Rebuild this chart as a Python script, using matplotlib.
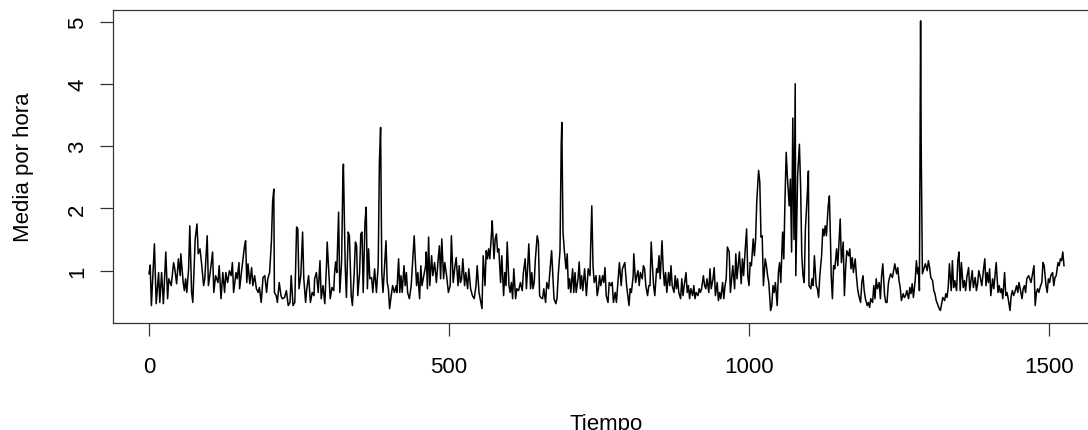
import matplotlib
matplotlib.use("Agg")
import matplotlib.pyplot as plt

plt.rcParams['font.family'] = ['Liberation Sans', 'DejaVu Sans']

# --- serie (vertices de la linea) ---
tiempo = [
    0, 2, 4, 9, 12, 16, 18, 21, 24, 28, 31, 33, 37, 41, 43, 46, 49, 52, 53, 57,
    59, 61, 63, 66, 68, 71, 73, 77, 80, 82, 85, 88, 91, 93, 97, 99, 102, 106, 108, 111,
    115, 117, 120, 123, 126, 128, 131, 134, 137, 139, 141, 145, 147, 150,
    151, 154, 157, 159, 161, 163, 165, 168, 171, 173, 176, 179, 182, 184, 187, 190,
    193, 196, 198, 201, 204, 206, 208, 209, 212, 214, 217, 220, 222, 226, 229, 232,
    235, 237, 240, 243, 246, 248, 250, 253, 256, 258, 261, 263, 266, 269, 272, 275,
    276, 279, 282, 285, 287, 290, 293, 296, 297, 300, 302, 305, 308,
    309, 311, 313, 316, 318, 321, 323, 324, 327, 329, 332, 334, 337, 339, 342, 344,
    346, 348, 351, 353, 355, 357, 360, 362, 364, 366, 368, 371, 373, 376, 379, 382,
    384, 386, 388, 390, 392, 395, 397, 399, 401, 403, 406, 409, 412, 413, 416, 418,
    420, 422, 425, 427, 429, 431, 434, 437, 440, 442, 444, 446, 448, 451, 453, 455,
    458, 461, 462,
    464, 466, 468, 471, 473, 476, 479, 482, 484, 486, 488, 491, 493, 496, 499, 502,
    504, 507, 510, 512, 515, 517, 519, 521, 523, 526, 528, 531, 533, 536, 539, 542,
    545, 547, 550, 553, 555, 557, 560, 562, 564, 566, 568, 571, 572, 575, 577, 579,
    581, 583, 586, 588, 591, 593, 595, 597, 600, 602, 604, 606, 608, 611, 613,
    616, 619, 622, 624, 627, 629, 631, 633, 636, 638, 640, 642, 644, 647, 649, 651,
    653, 656, 658, 661, 663, 666, 668, 671, 673, 675, 678, 680, 682, 685, 687, 688,
    690, 692, 695, 697, 699, 701, 703, 706, 708, 710, 712, 715, 717, 719, 721, 723,
    726, 729, 732, 735, 736, 738, 740, 742, 745, 747, 749, 751, 753, 756, 758, 760,
    762, 765, 767, 770, 772,
    774, 777, 779, 782, 784, 787, 789, 791, 793, 796, 798, 800, 802, 804, 807, 808,
    811, 813, 815, 817, 819, 822, 824, 826, 828, 831, 833, 835, 837, 839, 841, 843,
    846, 848, 850, 852, 855, 857, 859, 861, 863, 866, 868, 870, 872, 875, 877, 879,
    881, 883, 886, 888, 890, 892, 895, 897, 899, 901, 903, 906, 908, 910, 912, 915,
    917, 919, 921, 924, 926,
    928, 930, 933, 935, 937, 940, 942, 944, 947, 949, 951, 953, 956, 958, 960, 962,
    964, 967, 969, 971, 973, 976, 978, 980, 982, 984, 987, 989, 991, 993, 996, 998,
    1000, 1002, 1004, 1007, 1009, 1011, 1013, 1016, 1018, 1020, 1022, 1024, 1027, 1029, 1031, 1033,
    1036, 1038, 1040, 1042, 1044, 1047, 1049, 1051, 1053, 1056, 1058, 1060, 1062, 1064, 1067, 1069,
    1071, 1073, 1075, 1077,
    1078, 1081, 1084, 1086, 1088, 1090, 1092, 1094, 1097, 1099, 1100, 1103, 1105, 1107, 1109, 1112,
    1114, 1116, 1118, 1121, 1123, 1125, 1127, 1129, 1132, 1134, 1136, 1137, 1139, 1141, 1143, 1146,
    1148, 1150, 1152, 1154, 1157, 1159, 1161, 1163, 1166, 1168, 1170, 1172, 1174, 1177, 1179, 1181,
    1183, 1186, 1188, 1190, 1192, 1194, 1197, 1199, 1201, 1203, 1206, 1208, 1210, 1212, 1214, 1217,
    1219, 1221, 1223, 1226, 1228, 1230, 1232,
    1233, 1236, 1239, 1242, 1243, 1246, 1248, 1250, 1252, 1254, 1257, 1259, 1261, 1263, 1266, 1268,
    1270, 1272, 1274, 1277, 1279, 1281, 1283, 1284, 1286, 1287, 1289, 1292, 1294, 1297, 1299, 1301,
    1303, 1306, 1308, 1310, 1312, 1314, 1317, 1319, 1321, 1323, 1326, 1328, 1330, 1332, 1334, 1337,
    1339, 1341, 1343, 1346, 1348, 1350, 1352, 1354, 1357, 1359, 1361, 1363, 1366, 1368, 1370, 1372,
    1374, 1377, 1379, 1381, 1383,
    1385, 1388, 1391, 1393, 1395, 1397, 1399, 1401, 1403, 1406, 1408, 1410, 1412, 1415, 1417, 1419,
    1421, 1423, 1426, 1428, 1430, 1432, 1435, 1437, 1439, 1441, 1443, 1446, 1448, 1450, 1452, 1455,
    1457, 1459, 1461, 1463, 1466, 1468, 1470, 1472, 1475, 1477, 1479, 1481, 1483, 1486, 1488, 1490,
    1492, 1495, 1497, 1499, 1501, 1503, 1506, 1508, 1510, 1512, 1515, 1517, 1519, 1521, 1523, 1525,
]

media = [
    0.95, 1.09, 0.44, 1.43, 0.47, 0.97, 0.49, 0.97, 0.47, 1.30, 0.55, 0.87, 0.76, 1.13, 1.03, 0.79, 1.19, 0.92, 1.27, 0.81,
    0.68, 0.87, 0.65, 1.03, 1.72, 0.65, 0.49, 1.51, 1.75, 1.27, 1.35, 1.08, 0.76, 0.87, 1.56, 0.76, 0.97, 1.30, 0.65, 0.92,
    0.81, 1.08, 0.55, 0.97, 0.65, 0.97, 0.81, 1.00, 0.92, 1.13, 0.65, 0.97, 0.87, 1.13,
    0.71, 0.97, 1.21, 1.38, 1.48, 0.81, 1.11, 0.79, 1.05, 0.76, 0.92, 0.71, 0.65, 0.73, 0.49, 0.89,
    0.92, 0.65, 0.87, 0.97, 1.46, 2.10, 2.31, 0.65, 0.60, 0.49, 0.81, 0.60, 0.55, 0.57, 0.68, 0.44,
    0.49, 0.92, 0.44, 0.49, 1.70, 1.67, 0.71, 0.92, 1.62, 0.87, 0.49, 0.71, 0.92, 0.49, 0.65, 0.60,
    0.87, 0.97, 0.65, 1.16, 0.55, 0.76, 0.47, 1.13, 1.46, 0.92, 0.55, 0.73, 0.68,
    0.92, 1.14, 0.97, 1.94, 0.65, 1.14, 2.42, 2.71, 1.08, 0.57, 1.62, 1.56, 0.60, 0.44, 0.97, 1.46,
    1.40, 0.60, 0.97, 1.59, 1.62, 0.65, 1.78, 2.02, 0.71, 1.35, 0.87, 0.89, 0.65, 1.03, 0.65, 1.08,
    2.74, 3.30, 0.97, 0.65, 0.97, 1.48, 0.81, 0.71, 0.39, 0.55, 0.76, 0.65, 0.76, 0.65, 1.19, 0.65,
    0.92, 0.65, 1.08, 0.76, 0.97, 0.65, 0.55, 0.76, 1.24, 1.56, 1.14, 0.76, 0.97, 0.55, 1.08, 0.76,
    0.92, 1.08, 1.30,
    0.71, 1.54, 0.76, 1.24, 0.92, 1.13, 0.81, 1.19, 1.40, 0.87, 1.51, 0.87, 1.13, 0.92, 0.65, 0.76,
    1.56, 0.81, 1.08, 1.21, 0.76, 1.08, 0.81, 0.87, 1.19, 0.76, 0.97, 0.71, 1.03, 0.71, 0.60, 0.55,
    0.76, 1.08, 0.65, 0.49, 0.39, 1.24, 0.76, 1.32, 1.19, 1.35, 1.19, 1.62, 1.80, 1.19, 1.51, 1.59,
    1.30, 1.35, 0.81, 1.24, 0.60, 0.97, 0.76, 1.46, 0.76, 0.65, 0.81, 0.55, 1.03, 0.55, 0.71,
    0.68, 0.81, 0.68, 0.97, 1.19, 0.71, 1.03, 1.43, 0.71, 0.97, 0.71, 0.81, 1.19, 1.56, 1.46, 0.60,
    0.57, 0.55, 0.71, 0.49, 0.81, 0.71, 0.97, 1.32, 0.92, 0.55, 0.47, 0.55, 0.92, 1.32, 3.01, 3.38,
    1.62, 1.35, 1.03, 1.27, 0.71, 0.87, 0.65, 1.03, 0.65, 0.97, 0.65, 0.87, 1.14, 0.71, 0.92, 0.68,
    1.03, 0.60, 1.03, 0.92, 1.35, 2.04, 1.08, 0.81, 0.92, 0.60, 0.71, 0.92, 0.76, 0.92, 0.81, 1.05,
    0.60, 0.49, 0.81, 0.76, 0.81,
    0.49, 0.65, 0.49, 0.87, 1.13, 0.76, 1.03, 1.08, 1.13, 0.76, 0.60, 0.44, 0.71, 0.65, 0.92, 1.27,
    0.81, 0.92, 1.00, 0.76, 0.97, 0.87, 1.08, 1.03, 0.76, 0.60, 0.76, 0.76, 1.46, 1.08, 0.76, 0.60,
    1.03, 0.97, 1.24, 0.87, 1.48, 1.03, 0.76, 0.97, 0.65, 0.97, 0.76, 1.08, 0.76, 0.65, 0.92, 0.71,
    0.87, 0.65, 0.55, 0.87, 0.60, 0.76, 0.97, 0.65, 0.76, 0.55, 0.71, 0.60, 0.76, 0.55, 0.65, 0.60,
    0.71, 0.65, 0.71, 0.92, 0.76,
    0.71, 0.87, 0.65, 1.03, 0.71, 0.87, 1.05, 0.60, 0.81, 0.52, 0.65, 0.55, 0.81, 0.55, 0.76, 0.87,
    1.38, 1.30, 0.65, 0.87, 1.08, 0.71, 1.27, 0.87, 1.08, 1.30, 0.79, 1.19, 0.92, 1.24, 1.67, 0.92,
    0.76, 1.13, 1.08, 1.51, 1.24, 1.51, 2.12, 2.61, 2.42, 1.54, 1.56, 0.76, 1.19, 1.08, 0.92, 0.81,
    0.36, 0.44, 0.76, 0.65, 0.81, 0.44, 0.97, 1.13, 0.81, 1.62, 1.19, 2.15, 2.90, 2.50, 2.04, 2.47,
    1.30, 3.45, 1.50, 4.00,
    0.92, 2.52, 3.03, 2.36, 1.24, 0.92, 0.81, 1.67, 2.20, 2.60, 0.76, 0.71, 0.87, 0.76, 1.24, 0.76,
    0.71, 0.57, 0.92, 1.24, 1.67, 1.56, 1.72, 1.56, 2.04, 2.20, 1.40, 0.92, 0.55, 1.08, 1.03, 1.35,
    1.08, 1.46, 1.83, 1.13, 1.46, 0.60, 1.03, 1.32, 1.24, 1.35, 1.03, 1.21, 0.97, 1.19, 0.92, 0.71,
    0.60, 0.49, 0.81, 0.92, 0.68, 0.55, 0.44, 0.49, 0.41, 0.55, 0.49, 0.76, 0.55, 0.87, 0.71, 0.81,
    0.55, 0.92, 1.11, 0.60, 0.49, 0.49, 0.76,
    0.84, 0.95, 0.89, 1.05, 1.11, 0.95, 1.05, 0.84, 0.73, 0.52, 0.63, 0.57, 0.60, 0.68, 0.55, 0.73,
    0.63, 0.79, 0.57, 0.84, 1.16, 0.95, 1.05, 0.68, 5.01, 2.98, 0.95, 1.05, 1.11, 1.00, 1.16, 1.05,
    0.89, 0.84, 0.68, 0.63, 0.52, 0.47, 0.39, 0.36, 0.47, 0.57, 0.52, 0.63, 0.57, 0.73, 1.11, 0.68,
    1.16, 0.73, 0.84, 0.68, 1.16, 1.30, 0.68, 1.13, 0.73, 0.84, 0.68, 0.89, 1.05, 0.68, 0.84, 1.00,
    0.73, 0.89, 0.68, 0.79, 1.00,
    0.92, 0.76, 1.03, 1.19, 0.76, 0.97, 0.81, 1.03, 0.60, 0.87, 0.71, 0.92, 1.13, 0.65, 0.76, 0.65,
    0.71, 0.55, 0.97, 0.60, 0.65, 0.55, 0.36, 0.60, 0.68, 0.60, 0.65, 0.76, 0.65, 0.81, 0.71, 0.55,
    0.71, 0.76, 0.65, 0.87, 0.92, 0.87, 0.81, 0.92, 1.08, 0.44, 0.65, 0.71, 0.65, 0.76, 0.81, 1.13,
    1.08, 0.76, 0.65, 0.87, 0.81, 0.92, 0.97, 0.76, 0.89, 0.92, 1.13, 1.08, 1.19, 1.16, 1.30, 1.08,
]

xticks = [0, 500, 1000, 1500]
yticks = [1, 2, 3, 4, 5]

fig = plt.figure(figsize=(10.88, 4.31), dpi=100)
# el marco sigue mas alla del borde derecho, como en la captura original
ax = fig.add_axes([113 / 1088, 1 - 324 / 431, (1099.4 - 113) / 1088, (324 - 11) / 431])

ax.plot(tiempo, media, color='black', linewidth=1.1)

ax.set_xlim(-60, 1584)
ax.set_ylim(0.16, 5.185)
ax.set_xticks(xticks)
ax.set_yticks(yticks)
ax.tick_params(direction='out', length=9.5, width=0.9, labelsize=16, color='#333333')
ax.tick_params(axis='x', pad=14.5)
ax.tick_params(axis='y', pad=8.5)
for lab in ax.get_yticklabels():
    lab.set_rotation(90)
    lab.set_va('center')

for sp in ax.spines.values():
    sp.set_color('#333333')
    sp.set_linewidth(0.9)

ax.set_xlabel('Tiempo', fontsize=16, labelpad=26)
ax.set_ylabel('Media por hora', fontsize=16, labelpad=24)

fig.savefig('out.png', dpi=100)
